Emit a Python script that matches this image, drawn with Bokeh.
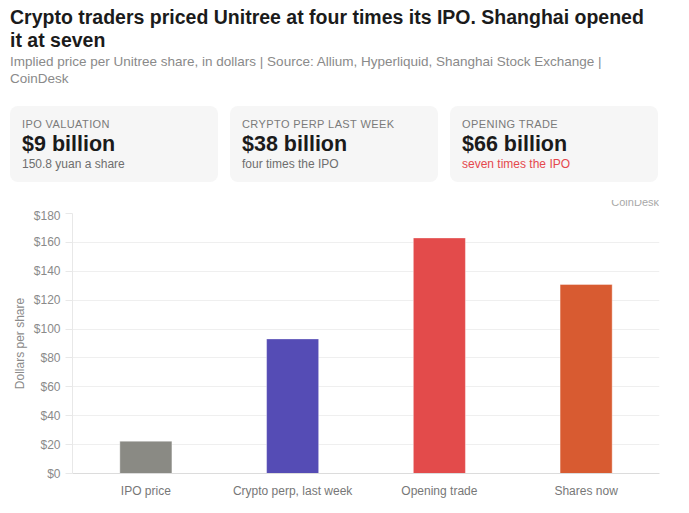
from bokeh.plotting import figure
from bokeh.layouts import column
from bokeh.models import (Div, ColumnDataSource, FixedTicker, NumeralTickFormatter,
                          FactorRange)
from bokeh.embed import file_html
from bokeh.resources import INLINE

# ---------------- data ----------------
categories = ["IPO price", "Crypto perp, last week", "Opening trade", "Shares now"]
prices = [22.4, 93.2, 163.1, 130.9]
bar_colors = ["#8a8a84", "#554cb5", "#e34b4b", "#d85b31"]
y_ticks = [0, 20, 40, 60, 80, 100, 120, 140, 160, 180]

title_text = "Crypto traders priced Unitree at four times its IPO. Shanghai opened it at seven"
subtitle_text = ("Implied price per Unitree share, in dollars | Source: Allium, Hyperliquid, "
                 "Shanghai Stock Exchange | CoinDesk")
card_labels = ["IPO VALUATION", "CRYPTO PERP LAST WEEK", "OPENING TRADE"]
card_values = ["$9 billion", "$38 billion", "$66 billion"]
card_notes = ["150.8 yuan a share", "four times the IPO", "seven times the IPO"]
card_note_colors = ["#6e6e6e", "#6e6e6e", "#e5484d"]
watermark = "CoinDesk"

FONT = "'Liberation Sans', Helvetica, Arial, sans-serif"

# ---------------- header ----------------
cards_html = ""
for i, (lab, val, note, nc) in enumerate(zip(card_labels, card_values, card_notes, card_note_colors)):
    left = 10 + i * 220
    cards_html += f"""
    <div style="position:absolute;left:{left}px;top:106px;width:208px;height:76px;
                background:#f6f6f6;border-radius:8px;">
      <div style="position:absolute;left:12px;top:12.6px;font-size:11px;line-height:11px;
                  letter-spacing:0.4px;color:#7a7a7a;white-space:nowrap;">{lab}</div>
      <div style="position:absolute;left:12px;top:27.8px;font-size:21.5px;line-height:21.5px;
                  font-weight:bold;color:#1b1b1b;white-space:nowrap;">{val}</div>
      <div style="position:absolute;left:12px;top:52.3px;font-size:12px;line-height:12px;
                  color:{nc};white-space:nowrap;">{note}</div>
    </div>"""

header_html = f"""
<div style="position:relative;width:673px;height:208px;font-family:{FONT};">
  <div style="position:absolute;left:10px;top:6.2px;width:642px;font-size:19.5px;line-height:22.7px;
              font-weight:bold;color:#1b1b1b;">{title_text}</div>
  <div style="position:absolute;left:10px;top:53.9px;width:605px;font-size:13.5px;line-height:16.7px;
              color:#8a8a8a;">{subtitle_text}</div>
  {cards_html}
  <div style="position:absolute;left:560px;top:200px;width:99px;height:8px;overflow:hidden;">
    <div style="position:absolute;right:0px;top:-3.1px;font-size:11px;line-height:11px;
                color:#a8a8a8;white-space:nowrap;">{watermark}</div>
  </div>
</div>
"""
header = Div(text=header_html, width=673, height=208, margin=(0, 0, 0, 0))

# ---------------- chart ----------------
source = ColumnDataSource(dict(cat=categories, price=prices, color=bar_colors))

p = figure(x_range=FactorRange(*categories, range_padding=0), y_range=(0, 180),
           width=673, height=305, output_backend="svg", toolbar_location=None,
           min_border_left=72, min_border_right=14, min_border_top=5, min_border_bottom=40)
p.outline_line_color = None
p.background_fill_color = "white"
p.border_fill_color = "white"

p.vbar(x="cat", top="price", width=0.355, source=source, fill_color="color",
       line_color="white", line_alpha=0.4, line_width=1)

p.xgrid.grid_line_color = None
p.ygrid.grid_line_color = "#efefef"
p.ygrid.ticker = FixedTicker(ticks=y_ticks)

ya = p.yaxis[0]
ya.ticker = FixedTicker(ticks=y_ticks)
ya.formatter = NumeralTickFormatter(format="$0,0")
ya.axis_line_color = "#e8e8e8"
ya.major_tick_line_color = "#e8e8e8"
ya.major_tick_out = 7
ya.major_tick_in = 0
ya.minor_tick_line_color = None
ya.major_label_standoff = 5
ya.major_label_text_font = "Liberation Sans"
ya.major_label_text_font_size = "12px"
ya.major_label_text_color = "#8a8a8a"
ya.axis_label = "Dollars per share"
ya.axis_label_text_font = "Liberation Sans"
ya.axis_label_text_font_size = "12px"
ya.axis_label_text_font_style = "normal"
ya.axis_label_text_color = "#8a8a8a"
ya.axis_label_standoff = 4

xa = p.xaxis[0]
xa.axis_line_color = "#dcdcdc"
xa.major_tick_line_color = None
xa.minor_tick_line_color = None
xa.major_tick_out = 0
xa.major_tick_in = 0
xa.major_label_standoff = 10
xa.major_label_text_font = "Liberation Sans"
xa.major_label_text_font_size = "12px"
xa.major_label_text_color = "#777777"

layout = column(header, p, spacing=0)
open("out.html", "w").write(file_html(layout, INLINE))
